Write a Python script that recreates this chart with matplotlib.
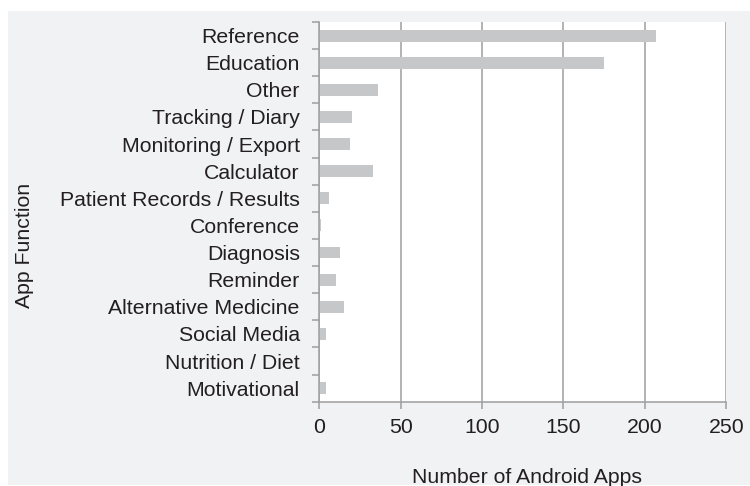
import numpy as np
import matplotlib.pyplot as plt
from matplotlib.patches import Rectangle

plt.rcParams['font.family'] = ['Liberation Sans', 'DejaVu Sans']

functions = ['Reference', 'Education', 'Other', 'Tracking / Diary',
             'Monitoring / Export', 'Calculator', 'Patient Records / Results',
             'Conference', 'Diagnosis', 'Reminder', 'Alternative Medicine',
             'Social Media', 'Nutrition / Diet', 'Motivational']
n_apps = [207, 175, 36, 20, 19, 33, 6, 1, 13, 10, 15, 4, 0, 4]

text_col = '#231f20'
line_col = '#9e9e9e'
fs = 15.3

fig = plt.figure(figsize=(7.5, 4.86), dpi=100, facecolor='white')
# grey panel behind the chart
fig.patches.append(Rectangle((8 / 750, 1 / 486), 1, 1 - 12 / 486,
                             transform=fig.transFigure, facecolor='#f1f2f4',
                             edgecolor='none', zorder=-10))

ax = fig.add_axes([0.4257, 0.1735, 0.5427, 0.7812])
ax.set_facecolor('white')

y = np.arange(len(functions))
ax.barh(y, n_apps, height=0.44, color='#c6c7c9', zorder=2)

ax.set_xlim(0, 250)
ax.set_ylim(len(functions) - 0.5, -0.5)
ax.set_xticks(np.arange(0, 251, 50))
ax.xaxis.grid(True, color=line_col, linewidth=1.1, zorder=1)
ax.set_axisbelow(True)

# ticks on category boundaries, labels on centres
ax.set_yticks(np.arange(-0.5, len(functions), 1.0))
ax.set_yticklabels([])
ax.set_yticks(y, minor=True)
ax.set_yticklabels(functions, minor=True, fontsize=fs, color=text_col)
ax.tick_params(axis='y', which='minor', length=0, pad=14)
ax.tick_params(axis='y', which='major', length=5, color=line_col, width=1.1)
ax.tick_params(axis='x', length=5, color=line_col, width=1.1, pad=7,
               labelsize=fs, labelcolor=text_col)

for side in ['top', 'right']:
    ax.spines[side].set_visible(False)
for side in ['left', 'bottom']:
    ax.spines[side].set_color(line_col)
    ax.spines[side].set_linewidth(1.1)

fig.text(527 / 750, 1 - 477 / 486, 'Number of Android Apps', ha='center',
         va='center', fontsize=fs, color=text_col)
fig.text(25 / 750, 1 - 245 / 486, 'App Function', ha='center', va='center',
         rotation=90, fontsize=fs, color=text_col)

fig.savefig('out.png', dpi=100, facecolor=fig.get_facecolor())
